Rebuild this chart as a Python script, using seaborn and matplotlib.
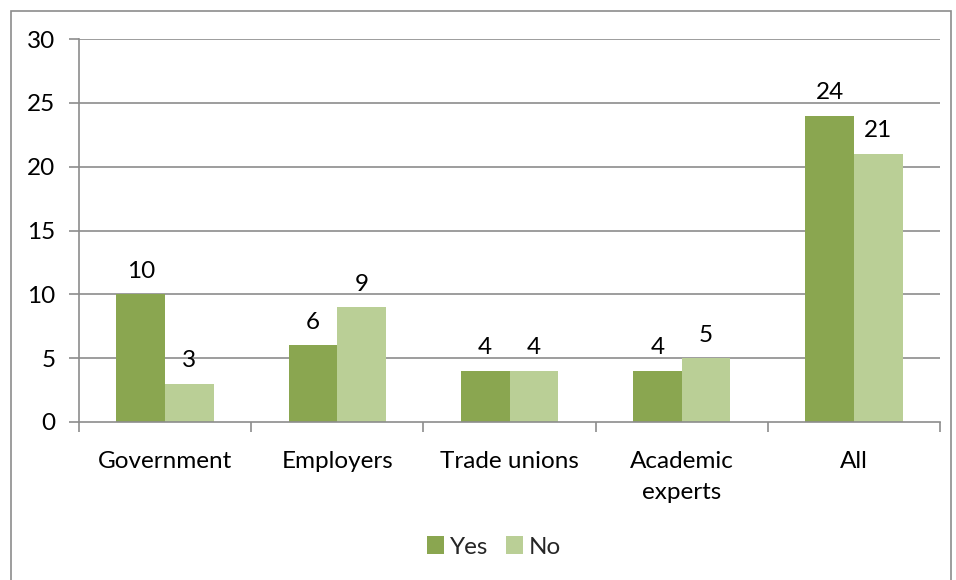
import matplotlib
matplotlib.use("Agg")
import matplotlib.pyplot as plt
from matplotlib.patches import Rectangle
import seaborn as sns
import pandas as pd

categories = ["Government", "Employers", "Trade unions", "Academic\nexperts", "All"]
yes_values = [10, 6, 4, 4, 24]
no_values = [3, 9, 4, 5, 21]
series_names = ["Yes", "No"]
y_ticks = [0, 5, 10, 15, 20, 25, 30]

df = pd.DataFrame({
    "category": categories * 2,
    "answer": [series_names[0]] * len(categories) + [series_names[1]] * len(categories),
    "count": yes_values + no_values,
})

sns.set_theme(style="white")
plt.rcParams["font.family"] = ["Lato", "DejaVu Sans"]
FS = 17.5

W, H = 956, 580
fig = plt.figure(figsize=(W / 100, H / 100), dpi=100)
ax = fig.add_axes([79 / W, 1 - 422 / H, (940 - 79) / W, (422 - 39) / H])

palette = {"Yes": "#8AA650", "No": "#BACF96"}
sns.barplot(data=df, x="category", y="count", hue="answer", palette=palette,
            width=0.565, gap=0, saturation=1, ax=ax, legend=True, edgecolor="none")

ax.set_ylim(0, 30)
ax.set_xlim(-0.5, len(categories) - 0.5)
ax.set_yticks(y_ticks)
ax.set_xlabel("")
ax.set_ylabel("")

grid_color = "#8C8C8C"
for v in y_ticks[1:]:
    ax.axhline(v, color=grid_color, lw=1.2, zorder=0)

for side in ["top", "right"]:
    ax.spines[side].set_visible(False)
for side in ["left", "bottom"]:
    ax.spines[side].set_color(grid_color)
    ax.spines[side].set_linewidth(1.2)

# y ticks outward; x ticks at category boundaries
ax.tick_params(axis="y", which="both", left=True, length=7, width=1.2, color=grid_color,
               labelsize=FS, pad=10, labelcolor="black")
ax.set_xticks(range(len(categories)))
ax.set_xticklabels(categories, linespacing=1.55)
ax.tick_params(axis="x", which="major", bottom=False, labelsize=FS, pad=15, labelcolor="black")
ax.set_xticks([i + 0.5 for i in range(-1, len(categories))], minor=True)
ax.tick_params(axis="x", which="minor", bottom=True, length=7, width=1.2, color=grid_color)

for container in ax.containers:
    ax.bar_label(container, fmt="%d", padding=9, fontsize=FS, color="black")

leg = ax.legend(loc="center", ncol=2, frameon=False, fontsize=FS,
                handlelength=0.7, handleheight=0.7,
                handletextpad=0.25, columnspacing=0.7)
leg.set_bbox_to_anchor((494 / W, 1 - 547 / H), transform=fig.transFigure)

fig.patches.append(Rectangle((11 / W, -0.01), (951 - 11) / W, 1 - 11 / H + 0.01,
                             transform=fig.transFigure, fill=False,
                             edgecolor="#8C8C8C", lw=1.2))

fig.savefig("out.png", dpi=100)
